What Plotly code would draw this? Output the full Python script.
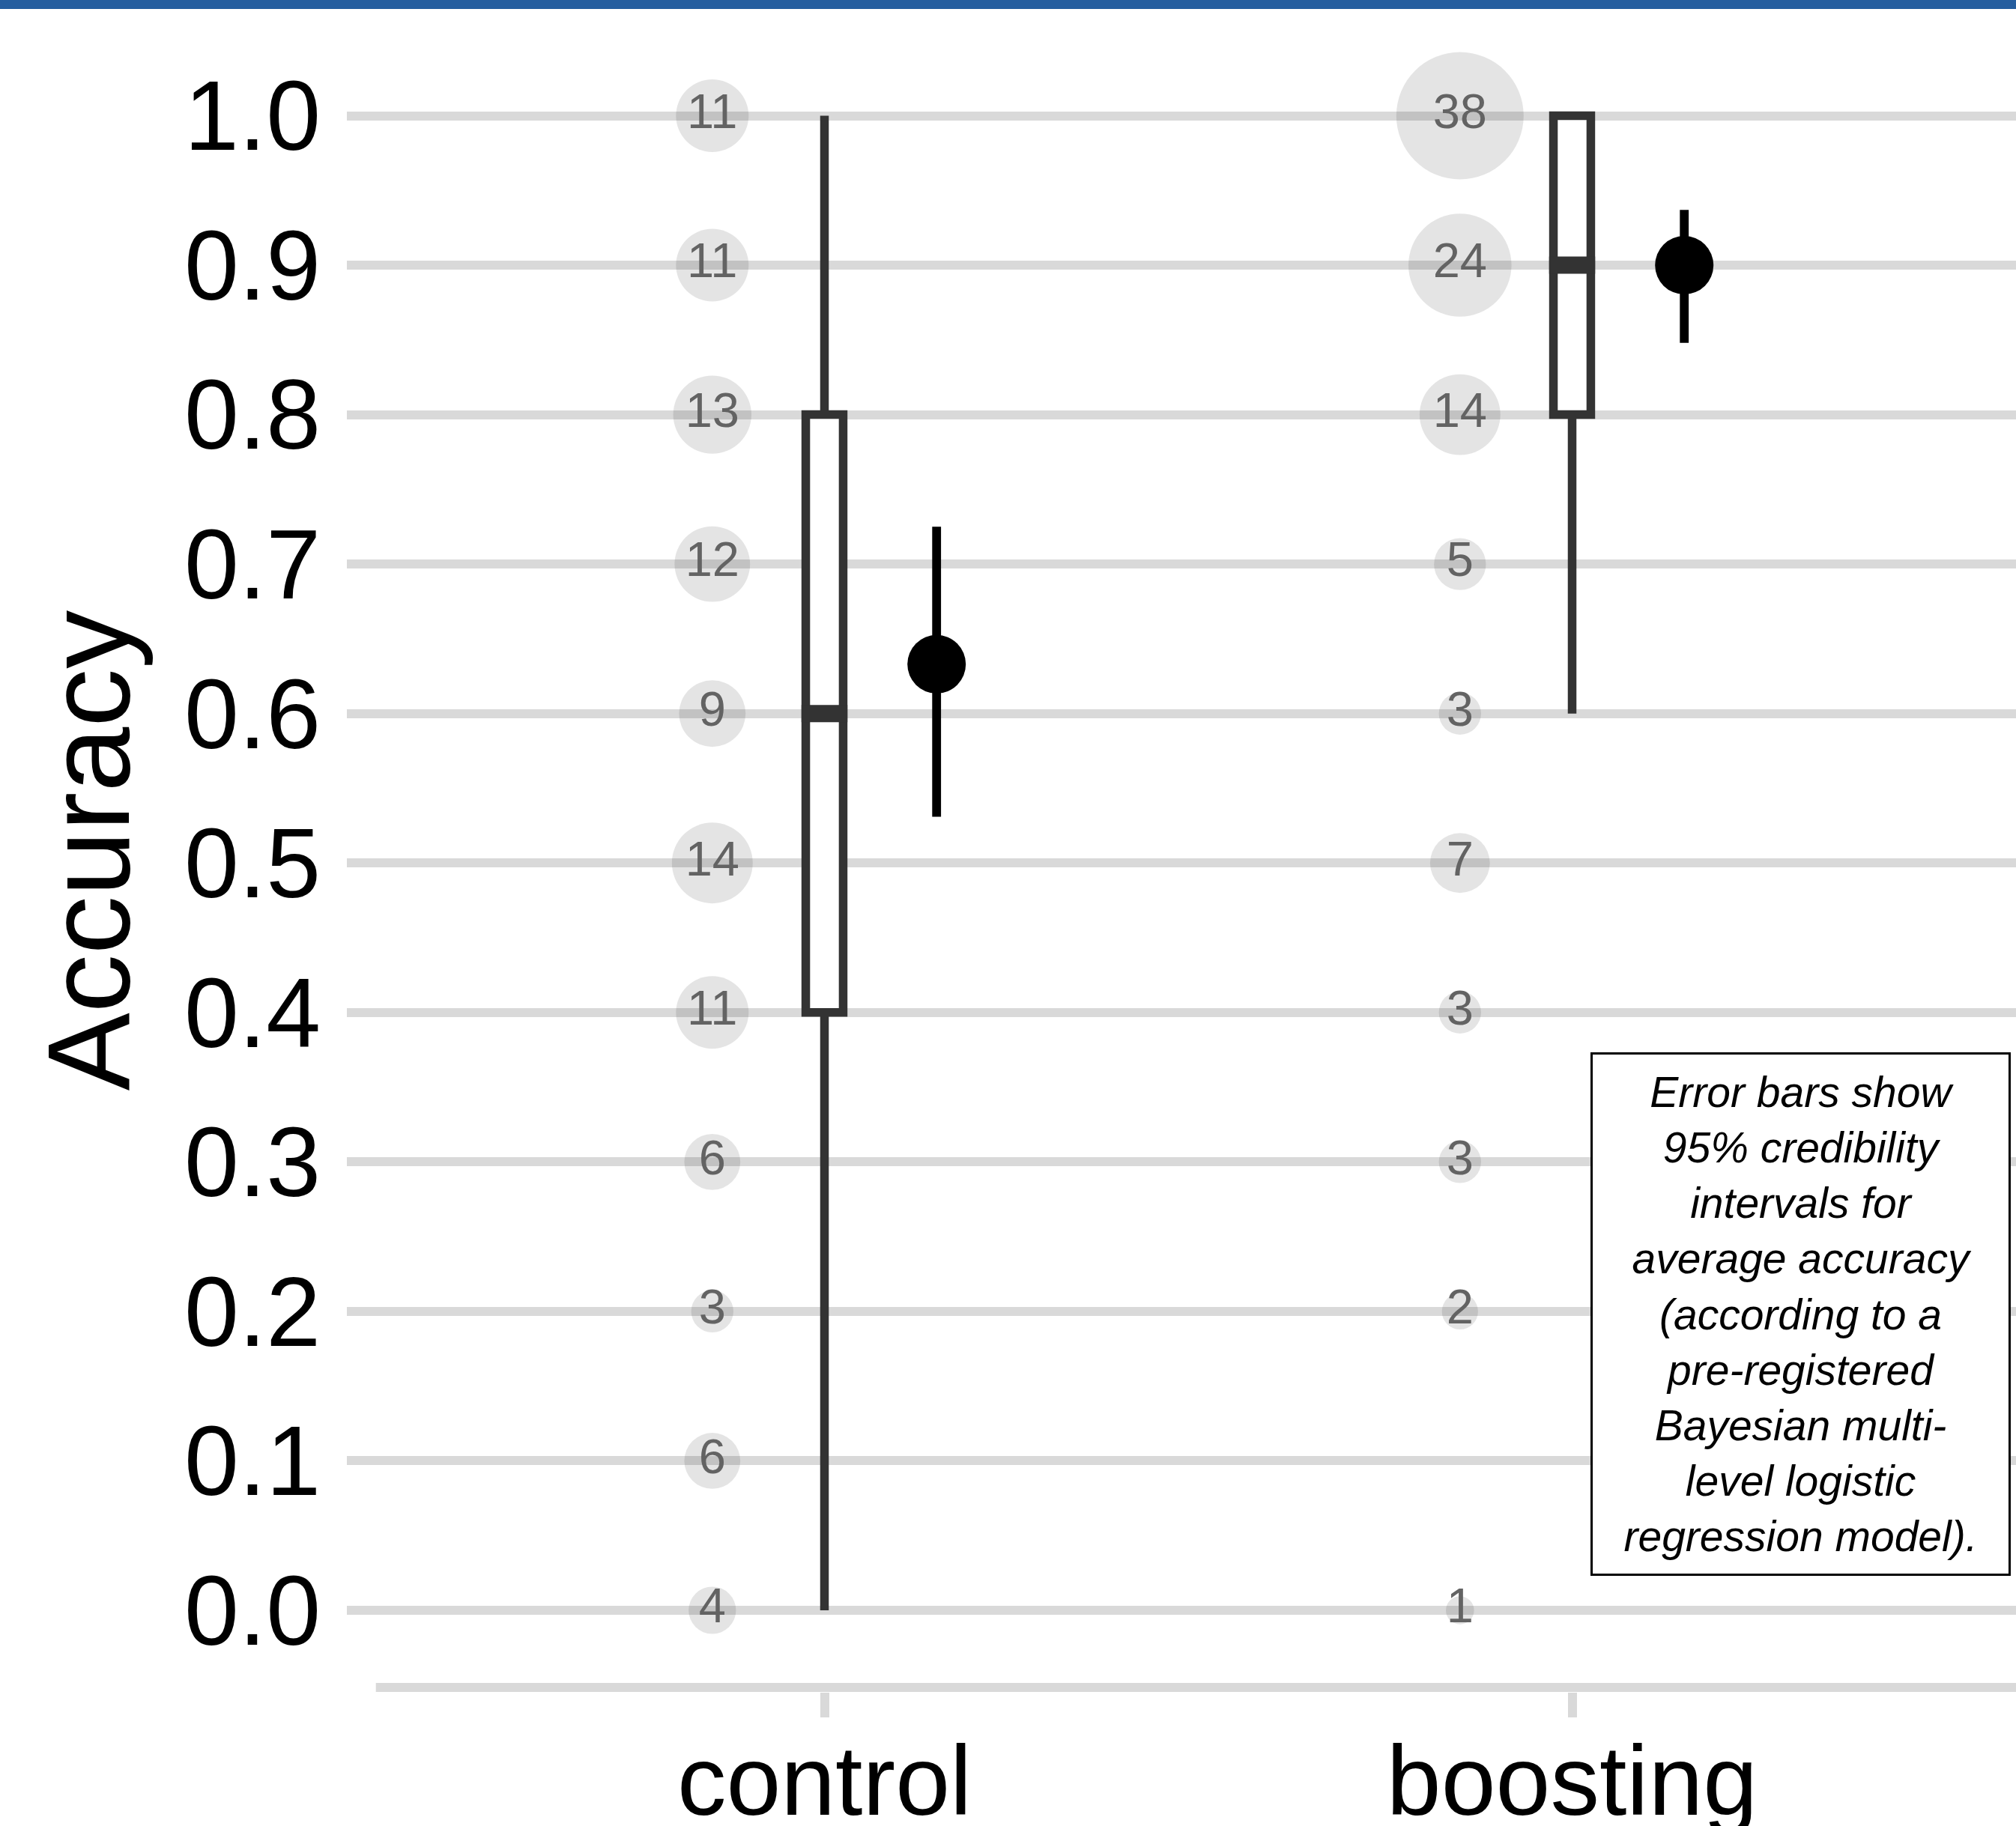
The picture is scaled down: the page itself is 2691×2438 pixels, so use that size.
import plotly.graph_objects as go

# ---------------- data ----------------
categories = ["control", "boosting"]
cat_pos = [1, 2]

acc_levels = [0.0, 0.1, 0.2, 0.3, 0.4, 0.5, 0.6, 0.7, 0.8, 0.9, 1.0]
control_counts = [4, 6, 3, 6, 11, 14, 9, 12, 13, 11, 11]
boosting_levels = [0.0, 0.2, 0.3, 0.4, 0.5, 0.6, 0.7, 0.8, 0.9, 1.0]
boosting_counts = [1, 2, 3, 3, 7, 3, 5, 14, 24, 38]

box_q1 = [0.4, 0.8]
box_median = [0.6, 0.9]
box_q3 = [0.8, 1.0]
box_lower = [0.0, 0.6]
box_upper = [1.0, 1.0]

ci_mean = [0.633, 0.900]
ci_low = [0.531, 0.848]
ci_high = [0.725, 0.937]

y_ticks = [0.0, 0.1, 0.2, 0.3, 0.4, 0.5, 0.6, 0.7, 0.8, 0.9, 1.0]
y_ticklabels = ["0.0", "0.1", "0.2", "0.3", "0.4", "0.5", "0.6", "0.7", "0.8", "0.9", "1.0"]

note = ("Error bars show<br>95% credibility<br>intervals for<br>average accuracy<br>"
        "(according to a<br>pre-registered<br>Bayesian multi-<br>level logistic<br>"
        "regression model).")

# ---------------- style ----------------
FONT = "Liberation Sans, Arial, Helvetica, sans-serif"
W, H = 2691, 2438
ML, MR, MT, MB = 463, 0, 12, 179
PX_PER_CAT = 998.0
X_RANGE = [1 - (1100.5 - ML) / PX_PER_CAT, 1 + (W - 1100.5) / PX_PER_CAT]
Y_RANGE = [(2150 - (H - MB)) / 1995.5, (2150 - MT) / 1995.5]
DODGE = 0.15
BOX_W = 0.05
LW = 11.5
GRID = "#d9d9d9"


def bubble_size(n):
    # size scale: diameter grows with sqrt(count)
    return 11.95 + 25.64 * (n ** 0.5)


fig = go.Figure()

# count bubbles
for pos, levels, counts in [(cat_pos[0], acc_levels, control_counts),
                            (cat_pos[1], boosting_levels, boosting_counts)]:
    fig.add_trace(go.Scatter(
        x=[pos - DODGE] * len(levels), y=levels,
        mode="markers+text",
        text=[str(c) for c in counts],
        textposition="middle center",
        textfont=dict(family=FONT, size=65, color="#636363"),
        marker=dict(size=[bubble_size(c) for c in counts],
                    color="rgba(0,0,0,0.15)", line=dict(width=0)),
        cliponaxis=False, showlegend=False, hoverinfo="skip",
    ))

# boxplots
fig.add_trace(go.Box(
    x=cat_pos, q1=box_q1, median=box_median, q3=box_q3,
    lowerfence=box_lower, upperfence=box_upper,
    width=BOX_W, whiskerwidth=0,
    fillcolor="white", line=dict(color="#333333", width=LW),
    boxpoints=False, showlegend=False, hoverinfo="skip",
))

# thicker median bars
half = BOX_W / 2 + (LW / 2) / PX_PER_CAT
for pos, med in zip(cat_pos, box_median):
    fig.add_trace(go.Scatter(
        x=[pos - half, pos + half], y=[med, med], mode="lines",
        line=dict(color="#333333", width=2 * LW),
        showlegend=False, hoverinfo="skip",
    ))

# credible intervals
fig.add_trace(go.Scatter(
    x=[p + DODGE for p in cat_pos], y=ci_mean, mode="markers",
    marker=dict(size=78, color="black"),
    error_y=dict(type="data", symmetric=False,
                 array=[h - m for h, m in zip(ci_high, ci_mean)],
                 arrayminus=[m - l for m, l in zip(ci_mean, ci_low)],
                 color="black", thickness=11.8, width=0),
    showlegend=False, hoverinfo="skip",
))

axis_y = (2150 - 2253) / 1995.5

fig.update_layout(
    width=W, height=H,
    margin=dict(l=ML, r=MR, t=MT, b=MB, pad=0, autoexpand=False),
    paper_bgcolor="white", plot_bgcolor="white",
    font=dict(family=FONT, color="black"),
    showlegend=False,
    xaxis=dict(range=X_RANGE, tickvals=cat_pos, ticktext=categories,
               showgrid=False, zeroline=False, showline=False, automargin=False,
               ticks="outside", ticklen=33, tickwidth=12, tickcolor=GRID,
               tickfont=dict(family=FONT, size=131, color="black"),
               ticklabelstandoff=-27),
    yaxis=dict(range=Y_RANGE, tickvals=y_ticks, ticktext=y_ticklabels,
               showgrid=True, gridcolor=GRID, gridwidth=12, automargin=False,
               zeroline=False, showline=False, ticks="",
               tickfont=dict(family=FONT, size=131, color="black"),
               ticklabelstandoff=34,
               title=dict(text="Accuracy", standoff=20,
                          font=dict(family=FONT, size=156, color="black"))),
    shapes=[
        dict(type="rect", xref="paper", yref="paper",
             x0=-ML / (W - ML - MR), x1=1, y0=1, y1=1 + MT / (H - MT - MB),
             fillcolor="#245d9f", line=dict(width=0), layer="above"),
        dict(type="line", xref="x", yref="y", x0=0.4, x1=X_RANGE[1] + 0.1,
             y0=axis_y, y1=axis_y, line=dict(color=GRID, width=12), layer="below"),
    ],
    annotations=[
        dict(text="<i>" + note + "</i>", xref="paper", yref="paper",
             x=(2403.5 - ML) / (W - ML - MR), y=((H - MB) - 1754.5) / (H - MT - MB),
             xanchor="center", yanchor="middle", showarrow=False,
             align="center", valign="middle",
             width=553, height=691,
             font=dict(family=FONT, size=57, color="black"),
             bgcolor="white", bordercolor="black", borderwidth=3, borderpad=1),
    ],
)

fig.write_html(
    "out.html",
    config={"displayModeBar": False},
    post_script="document.body.style.margin='0px';document.body.style.overflow='hidden';",
)
